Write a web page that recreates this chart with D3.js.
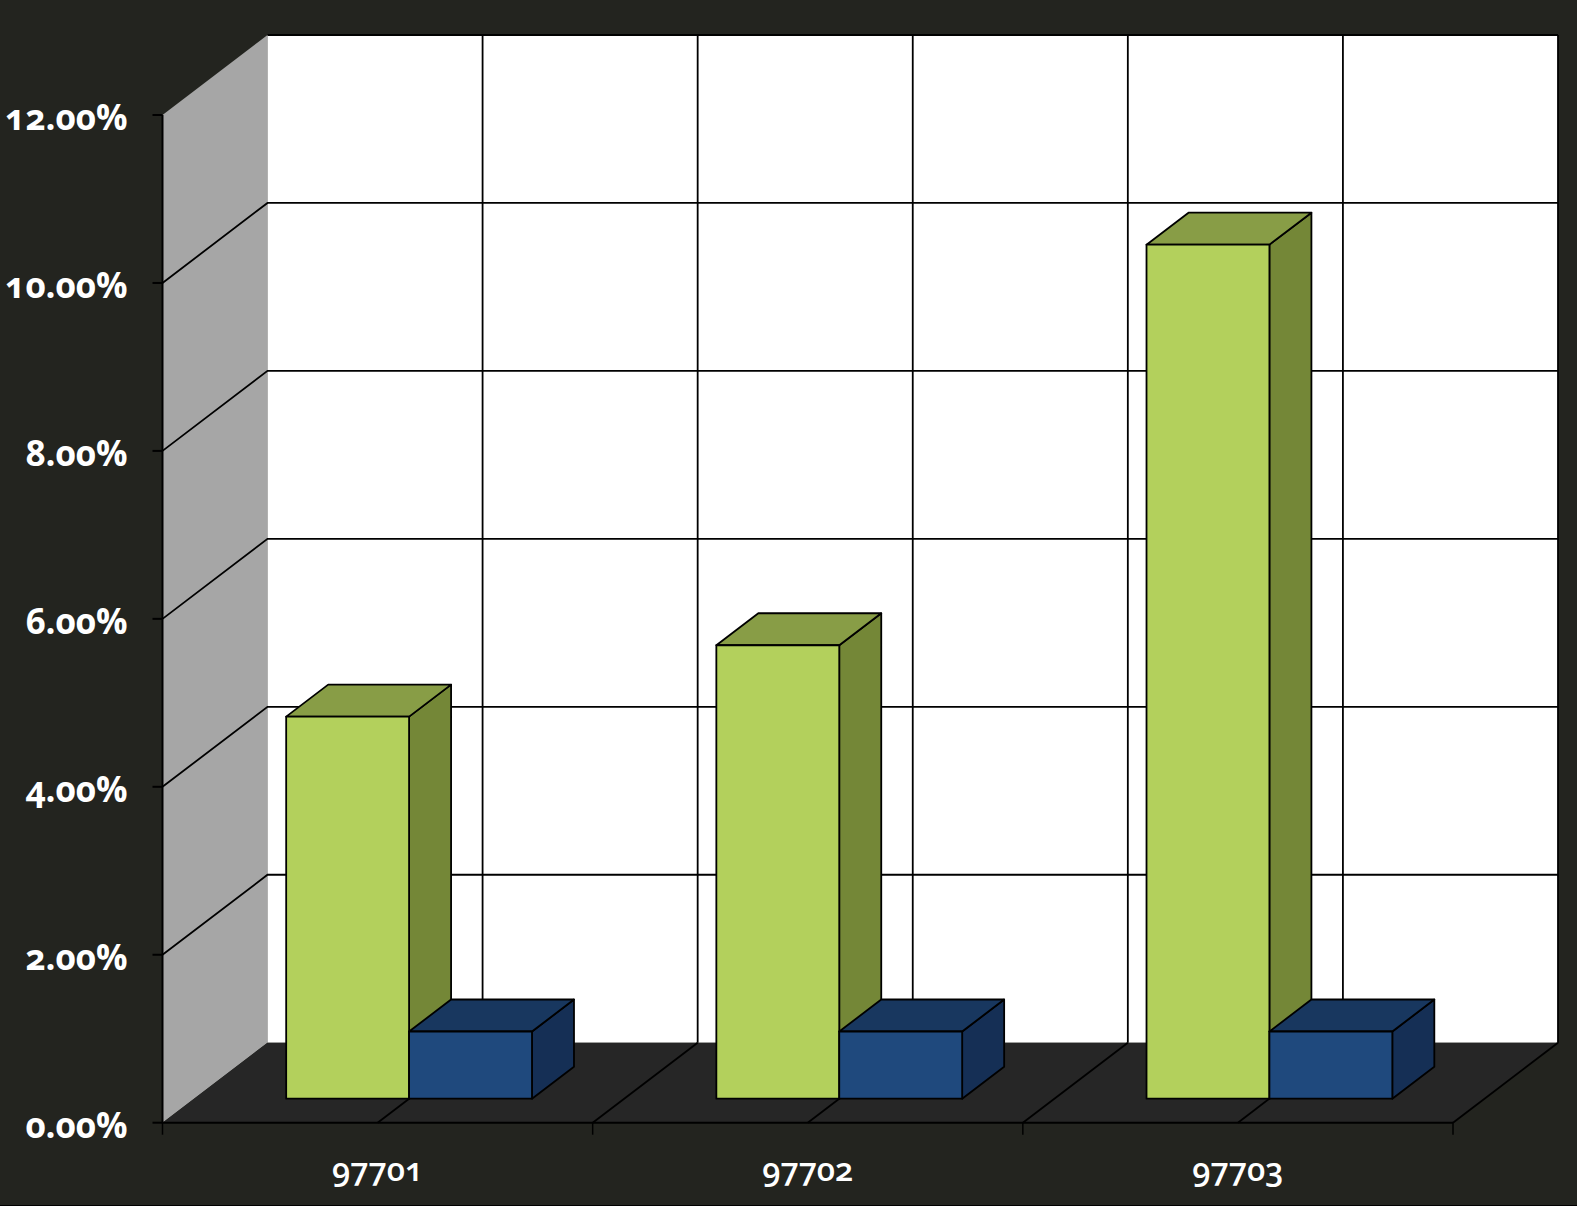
<!DOCTYPE html>
<meta charset='utf-8'>
<head>
    <title>3D Bars</title>
    <script src='https://cdn.jsdelivr.net/npm/d3@7'></script>
</head>

<style>
    html, body { margin: 0; background: #23241f; }
    svg { display: block; }
    .edge { stroke: #000; stroke-width: 1.8px; stroke-linejoin: round; }
    .grid { stroke: #000; stroke-width: 1.8px; fill: none; }
    .axis path, .axis line { stroke: #000; stroke-width: 2px; fill: none; }
    .axis text { fill: #fff; font-family: 'Open Sans', sans-serif; font-variant-numeric: oldstyle-nums; }
    .y-axis text { font-weight: 700; font-size: 35px; }
    .x-axis text { font-weight: 600; font-size: 32.5px; }
</style>

<svg></svg>

<script>
    var vWidth = 1577;
    var vHeight = 1206;

    var categories = ['97701', '97702', '97703'];
    var seriesNames = ['green', 'blue'];
    var greenValues = [4.55, 5.40, 10.17];
    var blueValues = [0.80, 0.80, 0.80];
    var yTickValues = [0, 2, 4, 6, 8, 10, 12];

    var seriesColors = {
        green: {front: '#b3d05c', top: '#889d46', side: '#748737'},
        blue: {front: '#1f497d', top: '#18375f', side: '#152f55'}
    };

    // Oblique projection of the box
    var depthX = 105;
    var depthY = -80;
    var barDepthStart = 0.3;
    var barDepthEnd = 0.7;

    var x = d3.scaleBand().domain(categories).range([162.5, 1453]);
    var inner = d3.scaleBand().domain(seriesNames).range([0, x.bandwidth()])
        .paddingInner(0).paddingOuter(0.75);
    var y = d3.scaleLinear().domain([0, 12]).range([1122.7, 115]);

    var svg = d3.select('svg').attr('width', vWidth).attr('height', vHeight);
    var poly = function (pts) { return pts.map(function (p) { return p.join(','); }).join(' '); };
    var proj = function (px, v, depth) { return [px + depth * depthX, y(v) + depth * depthY]; };

    var x0 = x.range()[0], x1 = x.range()[1];

    // Dark row along the bottom of the picture
    svg.append('rect').attr('x', 0).attr('y', vHeight - 1).attr('width', vWidth).attr('height', 1).attr('fill', '#000');

    // Walls and floor
    svg.append('polygon').attr('fill', '#a6a6a6')
        .attr('points', poly([proj(x0, 0, 0), proj(x0, 12, 0), proj(x0, 12, 1), proj(x0, 0, 1)]));
    svg.append('polygon').attr('fill', '#ffffff')
        .attr('points', poly([proj(x0, 0, 1), proj(x0, 12, 1), proj(x1, 12, 1), proj(x1, 0, 1)]));
    svg.append('polygon').attr('fill', '#262626')
        .attr('points', poly([proj(x0, 0, 0), proj(x1, 0, 0), proj(x1, 0, 1), proj(x0, 0, 1)]));

    // Horizontal grid on back wall and side wall
    var gridG = svg.append('g').attr('class', 'grid');
    yTickValues.forEach(function (t) {
        if (t === 0) return;
        gridG.append('polyline').attr('points', t === 12
            ? poly([proj(x0, t, 1), proj(x1, t, 1)])
            : poly([proj(x0, t, 0), proj(x0, t, 1), proj(x1, t, 1)]));
    });

    // Vertical grid and floor lines, at band edges and band middles
    var gridXs = [];
    categories.forEach(function (c) { gridXs.push(x(c), x(c) + x.bandwidth() / 2); });
    gridXs.push(x1);
    gridXs.forEach(function (g, i) {
        if (i > 0) {
            gridG.append('polyline').attr('points', poly([proj(g, 0, 1), proj(g, 12, 1)]));
            gridG.append('polyline').attr('points', poly([proj(g, 0, 0), proj(g, 0, 1)]));
        }
    });

    // Bars
    var drawBox = function (g, cat, name, value) {
        var left = x(cat) + inner(name);
        var right = left + inner.bandwidth();
        var c = seriesColors[name];
        g.append('polygon').attr('class', 'edge').attr('fill', c.side)
            .attr('points', poly([proj(right, 0, barDepthStart), proj(right, value, barDepthStart),
                proj(right, value, barDepthEnd), proj(right, 0, barDepthEnd)]));
        g.append('polygon').attr('class', 'edge').attr('fill', c.top)
            .attr('points', poly([proj(left, value, barDepthStart), proj(right, value, barDepthStart),
                proj(right, value, barDepthEnd), proj(left, value, barDepthEnd)]));
        g.append('polygon').attr('class', 'edge').attr('fill', c.front)
            .attr('points', poly([proj(left, 0, barDepthStart), proj(right, 0, barDepthStart),
                proj(right, value, barDepthStart), proj(left, value, barDepthStart)]));
    };
    var barsG = svg.append('g');
    categories.forEach(function (cat, i) {
        drawBox(barsG, cat, 'green', greenValues[i]);
        drawBox(barsG, cat, 'blue', blueValues[i]);
    });

    // Axes
    var yAxis = d3.axisLeft(y).tickValues(yTickValues).tickSize(10).tickSizeOuter(0).tickPadding(25).offset(0)
        .tickFormat(function (d) { return d3.format('.2f')(d) + '%'; });
    svg.append('g').attr('class', 'axis y-axis').attr('transform', 'translate(' + x0 + ',0)').call(yAxis)
        .selectAll('text').attr('dy', '15px');

    var xAxis = d3.axisBottom(x).tickSize(0).tickPadding(58).offset(0);
    svg.append('g').attr('class', 'axis x-axis').attr('transform', 'translate(0,' + y(0) + ')').call(xAxis)
        .selectAll('text').attr('dy', '0');

    // Tick marks on the band edges
    var edgeTicks = categories.map(function (c) { return x(c); }).concat([x1]);
    svg.append('g').attr('class', 'axis').selectAll('line').data(edgeTicks).enter().append('line')
        .attr('x1', function (d) { return d; }).attr('x2', function (d) { return d; })
        .attr('y1', y(0)).attr('y2', y(0) + 12).style('stroke-width', '1.5px');
</script>
